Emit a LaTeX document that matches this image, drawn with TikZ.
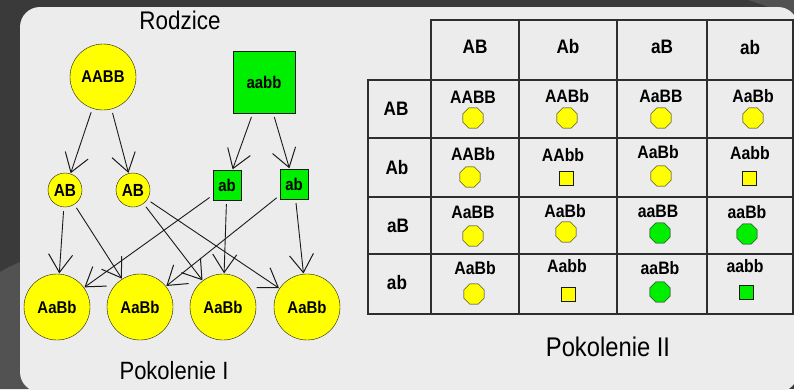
\documentclass[tikz,border=0pt]{standalone}
\usepackage{fontspec}
\setmainfont{Liberation Sans}[FakeStretch=0.88]
\usetikzlibrary{shapes.geometric, arrows.meta, positioning}
\definecolor{Backdrop}{HTML}{3A3A3A}
\definecolor{Swoosh}{HTML}{525252}
\definecolor{Panel}{HTML}{ECECEC}
\definecolor{Yel}{HTML}{FFFF00}
\definecolor{Grn}{HTML}{00EE00}
\definecolor{Ink}{HTML}{1A1A1A}
\definecolor{GridLine}{HTML}{2E2E2E}

\begin{document}
\begin{tikzpicture}[x=1pt, y=-1pt,
            parentA/.style={circle, draw=Ink, fill=Yel, minimum size=66pt, inner sep=0pt, font=\fontsize{17}{18}\selectfont\bfseries},
            parentB/.style={rectangle, draw=Ink, fill=Grn, minimum size=62pt, inner sep=0pt, font=\fontsize{17}{18}\selectfont\bfseries},
            gameteA/.style={circle, draw=Ink, fill=Yel, minimum size=34pt, inner sep=0pt, font=\fontsize{17.5}{18}\selectfont\bfseries},
            gameteB/.style={rectangle, draw=Ink, fill=Grn, minimum width=28pt, minimum height=30pt, inner sep=0pt, font=\fontsize{17}{18}\selectfont\bfseries},
            hybrid/.style={circle, draw=Ink, fill=Yel, minimum size=66pt, inner sep=0pt, font=\fontsize{17}{18}\selectfont\bfseries},
            gen/.style={-{Straight Barb[length=18pt, width=24pt, line width=1pt]}, line width=0.9pt, draw=Ink, shorten <=4pt, shorten >=0.5pt},
            grid/.style={draw=GridLine, line width=1.1pt},
            hdr/.style={font=\fontsize{19.5}{20}\selectfont\bfseries, inner sep=0pt},
            geno/.style={font=\fontsize{18}{19}\selectfont\bfseries, inner sep=0pt},
            octY/.style={regular polygon, regular polygon sides=8, draw=Ink, fill=Yel, minimum size=22pt, inner sep=0pt},
            octG/.style={regular polygon, regular polygon sides=8, draw=Ink, fill=Grn, minimum size=22pt, inner sep=0pt},
            sqY/.style={rectangle, draw=Ink, fill=Yel, minimum size=14pt, inner sep=0pt},
            sqG/.style={rectangle, draw=Ink, fill=Grn, minimum size=14pt, inner sep=0pt},
            caption/.style={font=\fontsize{25.5}{27}\selectfont, inner sep=0pt}
        ]
            % Background and panel
            \useasboundingbox (0,0) rectangle (794,389);
            \fill[Backdrop] (0,0) rectangle (794,389);
            \fill[Swoosh] (0,272) .. controls (10,266) and (20,262) .. (30,258) -- (30,389) -- (0,389) -- cycle;
            \fill[Swoosh] (748,0) .. controls (764,5) and (782,12) .. (794,20) -- (794,0) -- cycle;
            \fill[Panel, rounded corners=20pt] (20,7) rectangle (798,392);

            % Parents
            \node[caption] (rodzice) at (180,20) {Rodzice};
            \node[parentA] (pAABB) at (103,77) {AABB};
            \node[parentB] (paabb) at (264,82) {aabb};

            % Gametes
            \node[gameteA] (gAB1) at (65,190) {AB};
            \node[gameteA] (gAB2) at (133,190) {AB};
            \node[gameteB] (gab1) at (227,185) {ab};
            \node[gameteB] (gab2) at (294,184) {ab};

            % First generation
            \node[hybrid] (f1) at (57,307) {AaBb};
            \node[hybrid] (f2) at (140,307) {AaBb};
            \node[hybrid] (f3) at (223,307) {AaBb};
            \node[hybrid] (f4) at (307,307) {AaBb};
            \node[caption, font=\fontsize{25}{27}\selectfont] (pok1) at (174,371) {Pokolenie I};

            % Connections
            \draw[gen] (pAABB) -- (gAB1);
            \draw[gen] (pAABB) -- (gAB2);
            \draw[gen] (paabb) -- (gab1);
            \draw[gen] (paabb) -- (gab2);
            \draw[gen] (gAB1) -- (f1);
            \draw[gen] (gAB1) -- (f2);
            \draw[gen] (gAB2) -- (f3);
            \draw[gen] (gAB2) -- (f4);
            \draw[gen] (gab1) -- (f1);
            \draw[gen] (gab1) -- (f3);
            \draw[gen] (gab2) -- (f2);
            \draw[gen] (gab2) -- (f4);

            % Punnett square grid
            \draw[grid] (431,20) rectangle (793,80);
            \draw[grid] (368,80) rectangle (793,314);
            \draw[grid] (431,20) -- (431,314);
            \draw[grid] (519,20) -- (519,314);
            \draw[grid] (617,20) -- (617,314);
            \draw[grid] (707,20) -- (707,314);
            \draw[grid] (368,138) -- (793,138);
            \draw[grid] (368,197) -- (793,197);
            \draw[grid] (368,254) -- (793,254);

            % Column and row headers
            \node[hdr] (cAB) at (475,47) {AB};
            \node[hdr] (cAb) at (568,47) {Ab};
            \node[hdr] (caB) at (662,47) {aB};
            \node[hdr] (cab) at (750,48) {ab};
            \node[hdr] (rAB) at (396,109) {AB};
            \node[hdr] (rAb) at (397,168) {Ab};
            \node[hdr] (raB) at (398,226) {aB};
            \node[hdr] (rab) at (397,283) {ab};

            % Row AB
            \node[geno] (t11) at (473,97) {AABB};   \node[octY] (s11) at (473,118) {};
            \node[geno] (t12) at (567,96) {AABb};   \node[octY] (s12) at (567,118) {};
            \node[geno] (t13) at (661,96) {AaBB};   \node[octY] (s13) at (661,118) {};
            \node[geno] (t14) at (753,96) {AaBb};   \node[octY] (s14) at (753,118) {};
            % Row Ab
            \node[geno] (t21) at (473,154) {AABb};  \node[octY] (s21) at (470,177) {};
            \node[geno] (t22) at (563,155) {AAbb};  \node[sqY] (s22) at (566,178) {};
            \node[geno] (t23) at (658,152) {AaBb};  \node[octY] (s23) at (661,176) {};
            \node[geno] (t24) at (750,153) {Aabb};  \node[sqY] (s24) at (749,178) {};
            % Row aB
            \node[geno] (t31) at (473,212) {AaBB};  \node[octY] (s31) at (473,236) {};
            \node[geno] (t32) at (565,211) {AaBb};  \node[octY] (s32) at (566,232) {};
            \node[geno] (t33) at (658,211) {aaBB};  \node[octG] (s33) at (660,233) {};
            \node[geno] (t34) at (747,212) {aaBb};  \node[octG] (s34) at (747,234) {};
            % Row ab
            \node[geno] (t41) at (475,268) {AaBb};  \node[octY] (s41) at (474,294) {};
            \node[geno] (t42) at (567,266) {Aabb};  \node[sqY] (s42) at (568,294) {};
            \node[geno] (t43) at (660,268) {aaBb};  \node[octG] (s43) at (660,292) {};
            \node[geno] (t44) at (745,266) {aabb};  \node[sqG] (s44) at (746,292) {};

            \node[caption, font=\fontsize{27}{29}\selectfont] (pok2) at (608,347) {Pokolenie II};
        \end{tikzpicture}
\end{document}
